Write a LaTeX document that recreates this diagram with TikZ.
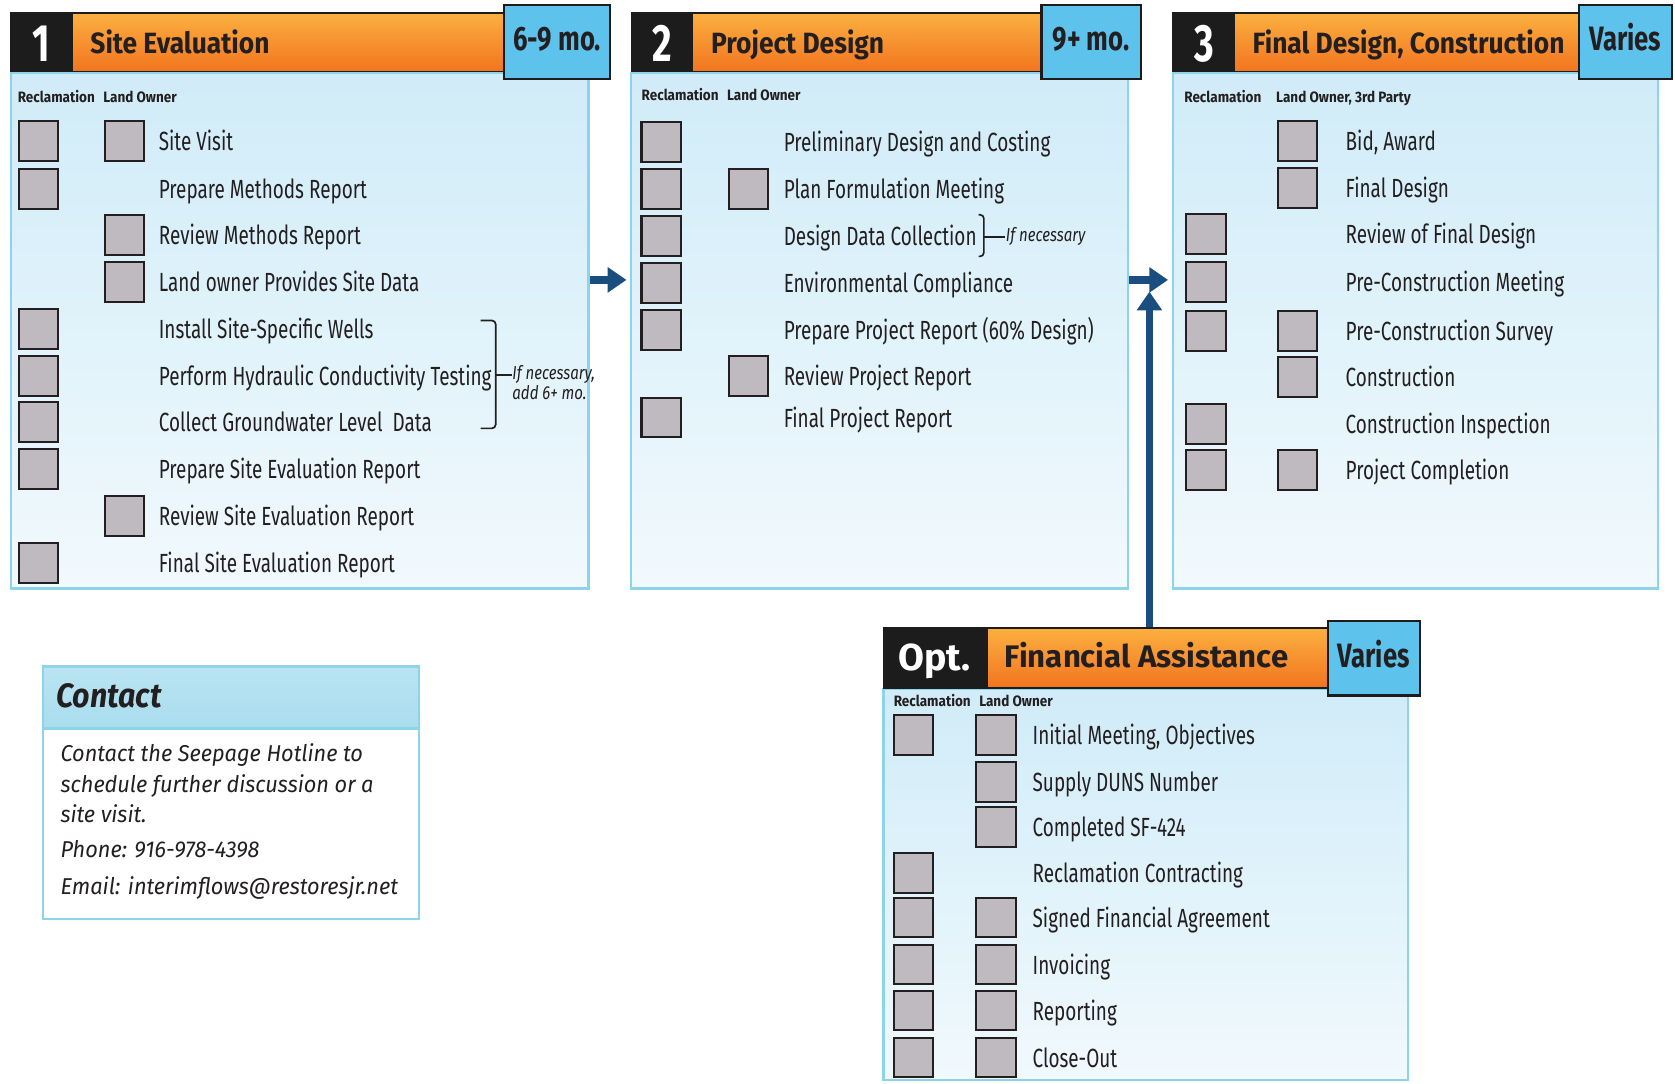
\documentclass[tikz,border=0pt]{standalone}
\usepackage{fontspec}
\setmainfont{Fira Sans}
\newfontfamily\narrowfam[FakeStretch=0.72]{Fira Sans}
\newfontfamily\semifam[FakeStretch=0.9]{Fira Sans}
\newfontfamily\durfam[FakeStretch=0.76]{Fira Sans}
\newfontfamily\notefam[FakeStretch=0.8]{Fira Sans}
\newfontfamily\confam[FakeStretch=0.95]{Fira Sans}
\usepackage{tikz}
\usetikzlibrary{fit}
\usetikzlibrary{arrows.meta}
\tikzset{>={Triangle[length=5pt,width=6.5pt]}}
\usepackage{xcolor}
\definecolor{ink}{HTML}{231F20}
\definecolor{hdrblack}{HTML}{1C1C1C}
\definecolor{orgtop}{HTML}{FBB03F}
\definecolor{orgbot}{HTML}{F27420}
\definecolor{durblue}{HTML}{5DC2EC}
\definecolor{bodytop}{HTML}{D0ECF8}
\definecolor{bodybot}{HTML}{F1F9FD}
\definecolor{bodyline}{HTML}{8DD3EA}
\definecolor{chkfill}{HTML}{BEBAC0}
\definecolor{flowblue}{HTML}{1A4E7E}
\definecolor{conhead}{HTML}{A9DDEE}
\tikzstyle{body}=[draw=bodyline,line width=0.6pt,top color=bodytop,bottom color=bodybot,inner sep=0]
\tikzstyle{titlebar}=[draw=hdrblack,line width=0.4pt,top color=orgtop,bottom color=orgbot,inner sep=0]
\tikzstyle{numbox}=[fill=hdrblack,inner sep=0]
\tikzstyle{durbox}=[draw=hdrblack,line width=0.6pt,fill=durblue,inner sep=0]
\tikzstyle{numtxt}=[anchor=base,inner sep=0,text=white,font=\narrowfam\bfseries\fontsize{14}{14}\selectfont]
\tikzstyle{durtxt}=[anchor=base,inner sep=0,text=ink,font=\durfam\bfseries\fontsize{9}{9}\selectfont]
\tikzstyle{title}=[anchor=base west,inner sep=0,text=ink,font=\semifam\bfseries\fontsize{7.8}{8}\selectfont]
\tikzstyle{colhd}=[anchor=base west,inner sep=0,text=ink,font=\semifam\bfseries\fontsize{4}{4}\selectfont]
\tikzstyle{item}=[anchor=base west,inner sep=0,text=ink,font=\narrowfam\fontsize{7}{8}\selectfont]
\tikzstyle{note}=[anchor=base west,inner sep=0,text=ink,font=\notefam\itshape\fontsize{5}{5}\selectfont]
\tikzstyle{chk}=[draw=ink,fill=chkfill,line width=0.55pt,minimum size=3.7mm,inner sep=0]
\tikzstyle{brk}=[ink,line width=0.45pt,rounded corners=1pt]
\tikzstyle{flow}=[->,line width=2pt,flowblue]

\begin{document}
\begin{tikzpicture}[x=0.1mm,y=-0.1mm]
  \useasboundingbox (0,0) rectangle (1568,1014);
  \def\dy{9}

  % bodies
  \node[body,fit={(10,68) (551,551)}] (b1) {};
  \node[body,fit={(591,68) (1056,551)}] (b2) {};
  \node[body,fit={(1098,68) (1552,551)}] (b3) {};
  \node[body,fit={(827,645) (1318,1011)}] (bO) {};

  % stage 1
  \node[titlebar,fit={(10,12) (472,67)}] (t1) {};
  \node[numbox,fit={(10,12) (68,67)}] (n1) {};
  \node[durbox,fit={(472,5) (571,74)}] (d1) {};
  \node[numtxt] (n1t) at (39,58) {1};
  \node[durtxt] (d1t) at (521.5,47) {6-9 mo.};
  \node[title] (tt1) at (84,50) {Site Evaluation};
  \node[colhd] (r1) at (16,96) {Reclamation};
  \node[colhd] (o1) at (96,96) {Land Owner};
  \foreach \y/\txt/\l/\r [count=\i] in {132/Site Visit/1/1, 177/Prepare Methods Report/1/0,
      220/Review Methods Report/0/1, 264/Land owner Provides Site Data/0/1,
      308/Install Site-Specific Wells/1/0, 352/Perform Hydraulic Conductivity Testing/1/0,
      395/Collect Groundwater Level\ \ Data/1/0, 439/Prepare Site Evaluation Report/1/0,
      483/Review Site Evaluation Report/0/1, 527/Final Site Evaluation Report/1/0}{
    \node[item] (s1-\i) at (148,\y+\dy) {\txt};
    \ifnum\l=1 \node[chk] (s1l-\i) at (36,\y) {}; \fi
    \ifnum\r=1 \node[chk] (s1r-\i) at (116.5,\y) {}; \fi
  }
  \node[note] (nb1) at (479,355) {If necessary,};
  \node[note] (nb1b) at (479,374) {add 6+ mo.};
  \draw[brk] (450,300) -- (464,300) -- (464,401) -- (450,401);
  \draw[brk] (464,351) -- (nb1.west |- 0,351);

  % stage 2
  \node[titlebar,fit={(591,12) (975,67)}] (t2) {};
  \node[numbox,fit={(591,12) (649,67)}] (n2) {};
  \node[durbox,fit={(975,5) (1068,74)}] (d2) {};
  \node[numtxt] (n2t) at (620,58) {2};
  \node[durtxt] (d2t) at (1021.5,47) {9+ mo.};
  \node[title] (tt2) at (665,50) {Project Design};
  \node[colhd] (r2) at (600,94) {Reclamation};
  \node[colhd] (o2) at (680,94) {Land Owner};
  \foreach \y/\txt/\l/\r [count=\i] in {133/Preliminary Design and Costing/1/0,
      177/Plan Formulation Meeting/1/1, 221/Design Data Collection/1/0,
      265/Environmental Compliance/1/0, 309/Prepare Project Report (60\% Design)/1/0,
      352/Review Project Report/0/1, 391/Final Project Report/1/0}{
    \node[item] (s2-\i) at (733,\y+\dy) {\txt};
    \ifnum\l=1 \node[chk] (s2l-\i) at (619,\y) {}; \fi
    \ifnum\r=1 \node[chk] (s2r-\i) at (700.5,\y) {}; \fi
  }
  \node[note] (nb2) at (941,226) {If necessary};
  \draw[brk] (916,201) -- (921,201) -- (921,240) -- (916,240);
  \draw[brk] (921,222) -- (nb2.west |- 0,222);

  % stage 3
  \node[titlebar,fit={(1098,12) (1478,67)}] (t3) {};
  \node[numbox,fit={(1098,12) (1156,67)}] (n3) {};
  \node[durbox,fit={(1478,5) (1565,74)}] (d3) {};
  \node[numtxt] (n3t) at (1127,58) {3};
  \node[durtxt] (d3t) at (1521.5,47) {Varies};
  \node[title] (tt3) at (1172,50) {Final Design, Construction};
  \node[colhd] (r3) at (1108,96) {Reclamation};
  \node[colhd] (o3) at (1194,96) {Land Owner, 3rd Party};
  \foreach \y/\txt/\l/\r [count=\i] in {132/{Bid, Award}/0/1, 176/Final Design/0/1,
      219/Review of Final Design/1/0, 264/Pre-Construction Meeting/1/0,
      310/Pre-Construction Survey/1/1, 353/Construction/0/1,
      397/Construction Inspection/1/0, 440/Project Completion/1/1}{
    \node[item] (s3-\i) at (1259,\y+\dy) {\txt};
    \ifnum\l=1 \node[chk] (s3l-\i) at (1129,\y) {}; \fi
    \ifnum\r=1 \node[chk] (s3r-\i) at (1214.5,\y) {}; \fi
  }

  % optional stage
  \node[titlebar,fit={(827,588) (1243,644)}] (tO) {};
  \node[numbox,fit={(827,588) (925,644)}] (nO) {};
  \node[durbox,fit={(1243,581) (1329,651)}] (dO) {};
  \node[numtxt,font=\bfseries\fontsize{10}{10}\selectfont] (nOt) at (875,628) {Opt.};
  \node[durtxt] (dOt) at (1286,625) {Varies};
  \node[title,font=\bfseries\fontsize{8.3}{8}\selectfont] (ttO) at (940,625) {Financial Assistance};
  \node[colhd] (rO) at (836,661) {Reclamation};
  \node[colhd] (oO) at (916,661) {Land Owner};
  \foreach \y/\txt/\l/\r [count=\i] in {688/{Initial Meeting, Objectives}/1/1,
      732/Supply DUNS Number/0/1, 774/Completed SF-424/0/1,
      817/Reclamation Contracting/1/0, 859/Signed Financial Agreement/1/1,
      903/Invoicing/1/1, 946/Reporting/1/1, 990/Close-Out/1/1}{
    \node[item] (sO-\i) at (966,\y+\dy) {\txt};
    \ifnum\l=1 \node[chk] (sOl-\i) at (855,\y) {}; \fi
    \ifnum\r=1 \node[chk] (sOr-\i) at (932.5,\y) {}; \fi
  }

  % arrows
  \coordinate (lvl) at (0,262);
  \coordinate (upTip) at (1076,273);
  \draw[flow,shorten >=1pt] (b1.east |- lvl) -- (b2.west |- lvl);
  \draw[flow,shorten >=1pt] (b2.east |- lvl) -- (b3.west |- lvl);
  \draw[flow] (tO.north -| upTip) -- (upTip);

  % contact
  \node[draw=bodyline,line width=0.6pt,fill=white,inner sep=0,fit={(40,624) (392,860)}] (cb) {};
  \node[draw=bodyline,line width=0.6pt,top color=conhead!80,bottom color=conhead,inner sep=0,fit={(40,624) (392,682)}] (ch) {};
  \node[anchor=base west,inner sep=0,text=ink,font=\semifam\bfseries\itshape\fontsize{9}{9}\selectfont] (ct) at (52,662) {Contact};
  \foreach \y/\txt [count=\i] in {713/Contact the Seepage Hotline to, 742/schedule further discussion or a,
      770/site visit., 803/Phone: 916-978-4398, 837/Email: interimflows@restoresjr.net}{
    \node[anchor=base west,inner sep=0,text=ink,font=\confam\itshape\fontsize{6.1}{7}\selectfont] (cl-\i) at (56,\y) {\txt};
  }
\end{tikzpicture}
\end{document}
